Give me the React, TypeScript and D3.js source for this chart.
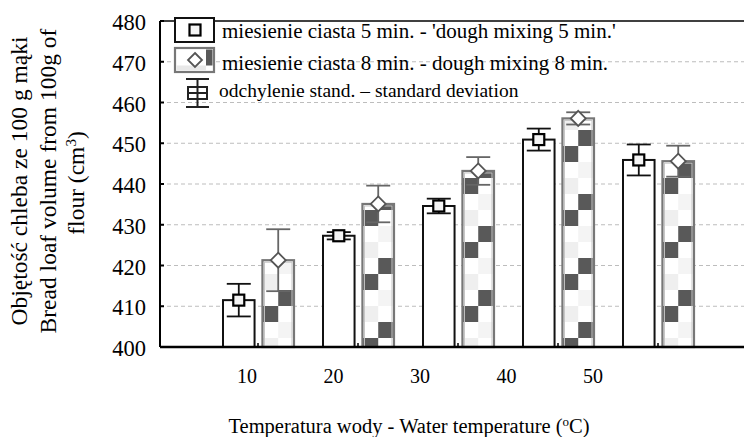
import { useRef, useEffect } from 'react';
import * as d3 from 'd3';

const temps = ['10', '20', '30', '40', '50'];
const series = ['5 min', '8 min'];
const mean5 = [411.5, 427.3, 434.6, 450.9, 445.9];
const sd5 = [4.0, 0.9, 1.8, 2.7, 3.8];
const mean8 = [421.3, 435.1, 443.2, 456.1, 445.6];
const sd8 = [7.6, 4.5, 3.4, 1.5, 3.8];
const yTicks = [400, 410, 420, 430, 440, 450, 460, 470, 480];
const legendLabels = [
  "miesienie ciasta 5 min. - 'dough mixing 5 min.'",
  'miesienie ciasta 8 min. - dough mixing 8 min.',
  'odchylenie stand. – standard deviation',
];

export default function App() {
  const svgRef = useRef<SVGSVGElement>(null);

  useEffect(() => {
    const width = 744;
    const height = 437;
    const left = 160, right = 744, top = 21, bottom = 347;
    const font = 'Liberation Serif';

    const svg = d3.select(svgRef.current)
      .attr('width', width)
      .attr('height', height)
      .style('font-family', font);
    svg.selectAll('*').remove();

    const y = d3.scaleLinear().domain([400, 480]).range([bottom, top]);
    const x0 = d3.scaleBand().domain(temps).range([208, 708]);
    const x1 = d3.scaleBand().domain(series).range([15, 86]).paddingInner(0.2);
    const xLab = d3.scalePoint().domain(temps).range([247, 593]);
    const bw = x1.bandwidth();

    // checker pattern, one per bar so it lines up with the bar edge
    const defs = svg.append('defs');
    temps.forEach((t, i) => {
      const cell = bw / 2;
      const p = defs.append('pattern')
        .attr('id', 'chk' + i)
        .attr('patternUnits', 'userSpaceOnUse')
        .attr('x', x0(t)! + x1('8 min')!)
        .attr('y', i % 2 ? 2 : 34)
        .attr('width', bw)
        .attr('height', 64);
      p.append('rect').attr('width', bw).attr('height', 64).attr('fill', '#fff');
      p.append('rect').attr('x', cell).attr('y', 0).attr('width', cell).attr('height', 16).attr('fill', '#595959');
      p.append('rect').attr('x', 0).attr('y', 16).attr('width', cell).attr('height', 16).attr('fill', '#595959');
      p.append('rect').attr('x', cell).attr('y', 32).attr('width', cell).attr('height', 16).attr('fill', '#f4f4f4');
      p.append('rect').attr('x', 0).attr('y', 48).attr('width', cell).attr('height', 16).attr('fill', '#efefef');
    });

    // grid
    svg.append('g')
      .selectAll('line')
      .data(yTicks.filter(v => v > 400 && v < 480))
      .enter()
      .append('line')
      .attr('x1', left).attr('x2', right)
      .attr('y1', d => y(d)).attr('y2', d => y(d))
      .attr('stroke', '#bdbdbd')
      .attr('stroke-dasharray', '4,3')
      .attr('stroke-width', 1);

    // y axis
    svg.append('line').attr('x1', left).attr('x2', left).attr('y1', top).attr('y2', bottom)
      .attr('stroke', '#000').attr('stroke-width', 2);
    svg.append('line').attr('x1', left).attr('x2', right).attr('y1', top).attr('y2', top)
      .attr('stroke', '#000').attr('stroke-width', 1.5);
    const yt = svg.append('g');
    yt.selectAll('line')
      .data(yTicks)
      .enter()
      .append('line')
      .attr('x1', left).attr('x2', left + 4)
      .attr('y1', d => y(d)).attr('y2', d => y(d))
      .attr('stroke', '#000').attr('stroke-width', 2);
    yt.selectAll('text')
      .data(yTicks)
      .enter()
      .append('text')
      .attr('x', 146)
      .attr('y', d => y(d))
      .attr('dy', '0.4em')
      .attr('text-anchor', 'end')
      .attr('font-size', 22.5)
      .text(d => d);

    // bars 5 min
    svg.append('g')
      .selectAll('rect')
      .data(temps)
      .enter()
      .append('rect')
      .attr('x', d => x0(d)! + x1('5 min')!)
      .attr('y', (d, i) => y(mean5[i]))
      .attr('width', bw)
      .attr('height', (d, i) => bottom - y(mean5[i]))
      .attr('fill', '#fff')
      .attr('stroke', '#111')
      .attr('stroke-width', 2);

    // bars 8 min (double outline: dark gray outside, light gray inside)
    const b8 = svg.append('g');
    b8.selectAll('rect.outer')
      .data(temps)
      .enter()
      .append('rect')
      .attr('class', 'outer')
      .attr('x', d => x0(d)! + x1('8 min')!)
      .attr('y', (d, i) => y(mean8[i]))
      .attr('width', bw)
      .attr('height', (d, i) => bottom - y(mean8[i]))
      .attr('fill', (d, i) => `url(#chk${i})`)
      .attr('stroke', '#777')
      .attr('stroke-width', 2.2);
    b8.selectAll('rect.inner')
      .data(temps)
      .enter()
      .append('rect')
      .attr('class', 'inner')
      .attr('x', d => x0(d)! + x1('8 min')! + 2)
      .attr('y', (d, i) => y(mean8[i]) + 2)
      .attr('width', bw - 4)
      .attr('height', (d, i) => bottom - y(mean8[i]) - 2)
      .attr('fill', 'none')
      .attr('stroke', '#c4c4c4')
      .attr('stroke-width', 1);

    // error bars + markers
    const drawErr = (means: number[], sds: number[], key: string, color: string) => {
      const g = svg.append('g').attr('stroke', color).attr('stroke-width', 1.8);
      temps.forEach((t, i) => {
        const cx = x0(t)! + x1(key)! + bw / 2;
        const hi = y(means[i] + sds[i]);
        const lo = y(means[i] - sds[i]);
        g.append('line').attr('x1', cx).attr('x2', cx).attr('y1', hi).attr('y2', lo);
        g.append('line').attr('x1', cx - 12).attr('x2', cx + 12).attr('y1', hi).attr('y2', hi);
        g.append('line').attr('x1', cx - 12).attr('x2', cx + 12).attr('y1', lo).attr('y2', lo);
      });
    };
    drawErr(mean5, sd5, '5 min', '#111');
    drawErr(mean8, sd8, '8 min', '#666');

    svg.append('g')
      .selectAll('rect')
      .data(temps)
      .enter()
      .append('rect')
      .attr('x', d => x0(d)! + x1('5 min')! + bw / 2 - 5.5)
      .attr('y', (d, i) => y(mean5[i]) - 5.5)
      .attr('width', 11)
      .attr('height', 11)
      .attr('fill', '#f4f4f4')
      .attr('stroke', '#000')
      .attr('stroke-width', 2.2);

    const diamond = (cx: number, cy: number, r: number) =>
      `M${cx},${cy - r}L${cx + r},${cy}L${cx},${cy + r}L${cx - r},${cy}Z`;
    svg.append('g')
      .selectAll('path')
      .data(temps)
      .enter()
      .append('path')
      .attr('d', (d, i) => diamond(x0(d)! + x1('8 min')! + bw / 2, y(mean8[i]), 7.5))
      .attr('fill', '#fff')
      .attr('stroke', '#555')
      .attr('stroke-width', 1.8);

    // x axis
    svg.append('line').attr('x1', left).attr('x2', right).attr('y1', bottom).attr('y2', bottom)
      .attr('stroke', '#000').attr('stroke-width', 2.5);
    svg.append('g')
      .selectAll('line')
      .data(temps)
      .enter()
      .append('line')
      .attr('x1', d => x0(d)! + x0.bandwidth() / 2)
      .attr('x2', d => x0(d)! + x0.bandwidth() / 2)
      .attr('y1', bottom).attr('y2', bottom - 4)
      .attr('stroke', '#000').attr('stroke-width', 1.5);
    svg.append('g')
      .selectAll('text')
      .data(temps)
      .enter()
      .append('text')
      .attr('x', d => xLab(d)!)
      .attr('y', 383)
      .attr('text-anchor', 'middle')
      .attr('font-size', 20)
      .text(d => d);

    // x title
    const xt = svg.append('text')
      .attr('x', 409).attr('y', 432.5)
      .attr('text-anchor', 'middle')
      .attr('font-size', 20.5);
    xt.append('tspan').text('Temperatura wody - Water temperature (');
    xt.append('tspan').attr('baseline-shift', 'super').attr('font-size', 13).text('o');
    xt.append('tspan').text('C)');

    // y title
    const ytl = svg.append('g').attr('transform', 'rotate(-90)')
      .attr('font-size', 23.5).attr('text-anchor', 'middle');
    ytl.append('text').attr('x', -181).attr('y', 27).text('Objętość chleba ze 100 g mąki');
    ytl.append('text').attr('x', -181).attr('y', 55.5).text('Bread loaf volume from 100g of');
    const l3 = ytl.append('text').attr('x', -183).attr('y', 84);
    l3.append('tspan').text('flour (cm');
    l3.append('tspan').attr('baseline-shift', 'super').attr('font-size', 15).text('3');
    l3.append('tspan').text(')');

    // legend
    const lg = svg.append('g');
    lg.append('rect').attr('x', 175).attr('y', 18).attr('width', 39).attr('height', 24)
      .attr('fill', '#fff').attr('stroke', '#111').attr('stroke-width', 2);
    lg.append('rect').attr('x', 189.5).attr('y', 24.5).attr('width', 11).attr('height', 11)
      .attr('fill', '#f4f4f4').attr('stroke', '#000').attr('stroke-width', 2.2);
    lg.append('rect').attr('x', 175).attr('y', 48).attr('width', 39).attr('height', 24)
      .attr('fill', '#fff').attr('stroke', '#777').attr('stroke-width', 2.2);
    lg.append('rect').attr('x', 206).attr('y', 49.5).attr('width', 6.5).attr('height', 16).attr('fill', '#595959');
    lg.append('rect').attr('x', 176.5).attr('y', 65.5).attr('width', 29.5).attr('height', 5).attr('fill', '#e8e8e8');
    lg.append('path').attr('d', diamond(195, 60, 7)).attr('fill', '#fff').attr('stroke', '#555').attr('stroke-width', 1.8);
    const ic = lg.append('g').attr('stroke', '#222').attr('stroke-width', 2).attr('fill', 'none');
    ic.append('line').attr('x1', 186).attr('x2', 209).attr('y1', 79).attr('y2', 79);
    ic.append('line').attr('x1', 186).attr('x2', 209).attr('y1', 107).attr('y2', 107);
    ic.append('line').attr('x1', 197.5).attr('x2', 197.5).attr('y1', 79).attr('y2', 107);
    ic.append('rect').attr('x', 188).attr('y', 87).attr('width', 19).attr('height', 12);
    ic.append('line').attr('x1', 188).attr('x2', 207).attr('y1', 93).attr('y2', 93);

    lg.selectAll('text')
      .data(legendLabels)
      .enter()
      .append('text')
      .attr('x', (d, i) => (i < 2 ? 222 : 219))
      .attr('y', (d, i) => [38, 70, 97][i])
      .attr('font-size', (d, i) => (i < 2 ? 21 : 19.5))
      .text(d => d);
  }, []);

  return (
    <svg ref={svgRef} style={{ position: 'absolute', left: 0, top: 0, background: '#fff' }} />
  );
}
